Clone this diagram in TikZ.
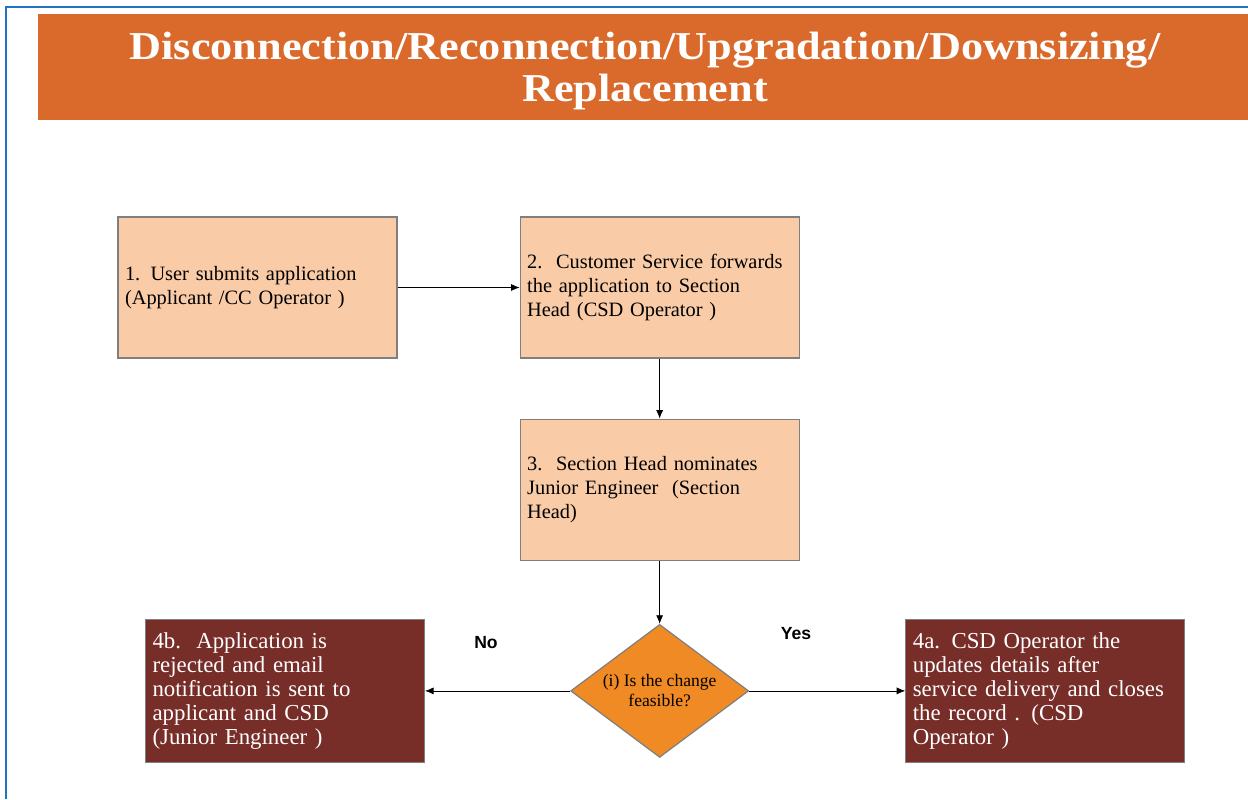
\documentclass[tikz,border=0pt]{standalone}
\usepackage{fontspec}
\setmainfont{Liberation Serif}
\setsansfont{Liberation Sans}
\newfontfamily\bannerfont[FakeStretch=1.12]{Liberation Serif}
\usepackage{xcolor}
\usetikzlibrary{arrows.meta,positioning,shapes.geometric}
\definecolor{bannerorange}{HTML}{D96A2B}
\definecolor{peach}{HTML}{F9CBA6}
\definecolor{maroon}{HTML}{772D28}
\definecolor{decision}{HTML}{F08A24}
\definecolor{framegray}{HTML}{7F7F7F}
\definecolor{frameblue}{HTML}{1F74C4}

\begin{document}
\begin{tikzpicture}[x=0.02cm, y=-0.02cm, >={Latex[length=1.7mm,width=1.4mm]}]
\tikzstyle{stepbox}=[draw=framegray, line width=0.7pt, fill=peach, minimum width=5.58cm, minimum height=2.82cm, text width=5.3cm, inner sep=3pt, align=left, font=\fontsize{11.6}{13.6}\selectfont]
\tikzstyle{endbox}=[draw=framegray, line width=0.7pt, fill=maroon, text=white, minimum width=5.58cm, minimum height=2.86cm, text width=5.3cm, inner sep=3pt, align=left, font=\fontsize{13}{13.6}\selectfont]
\tikzstyle{choice}=[diamond, draw=framegray, line width=0.7pt, fill=decision, aspect=1.34, inner sep=0pt, minimum width=3.56cm, minimum height=2.66cm, align=center, font=\fontsize{10}{11.5}\selectfont]
\tikzstyle{answer}=[font=\sffamily\bfseries\fontsize{10}{12}\selectfont]
\useasboundingbox (0,0) rectangle (1248,799);

% frame and title
\draw[frameblue, line width=1.2pt] (6,799) -- (6,7) -- (1248,7);
\node[fill=bannerorange, minimum width=24.2cm, minimum height=2.12cm] (banner) at (643,67) {};
\node[text=white, align=center, font=\bannerfont\bfseries\fontsize{22.5}{23.5}\selectfont] (title) at (645,71)
  {Disconnection/Reconnection/Upgradation/Downsizing/\\Replacement};

% process steps
\node[stepbox] (submit) at (257.5,287.5) {1. User submits application\\(Applicant /CC Operator )};
\node[stepbox, right=2.44cm of submit] (forward) {2.\ \ Customer Service forwards\\the application to Section\\Head (CSD Operator )};
\node[stepbox, below=1.2cm of forward] (nominate) {3.\ \ Section Head nominates\\Junior Engineer\ \ (Section\\Head)};
\node[choice, below=1.26cm of nominate] (feasible) {(i) Is the change\\feasible?};
\node[endbox, left=2.9cm of feasible] (reject) {4b.\ \ Application is\\rejected and email\\notification is sent to\\applicant and CSD\\(Junior Engineer )};
\node[endbox, right=3.12cm of feasible] (close) {4a. CSD Operator the\\updates details after\\service delivery and closes\\the record . (CSD\\Operator )};

\node[answer] (no) at (486,643) {No};
\node[answer] (yes) at (796,634) {Yes};

\draw[->] (submit) -- (forward);
\draw[->] (forward) -- (nominate);
\draw[->] (nominate) -- (feasible);
\draw[->] (feasible) -- (reject);
\draw[->] (feasible) -- (close);
\end{tikzpicture}
\end{document}
